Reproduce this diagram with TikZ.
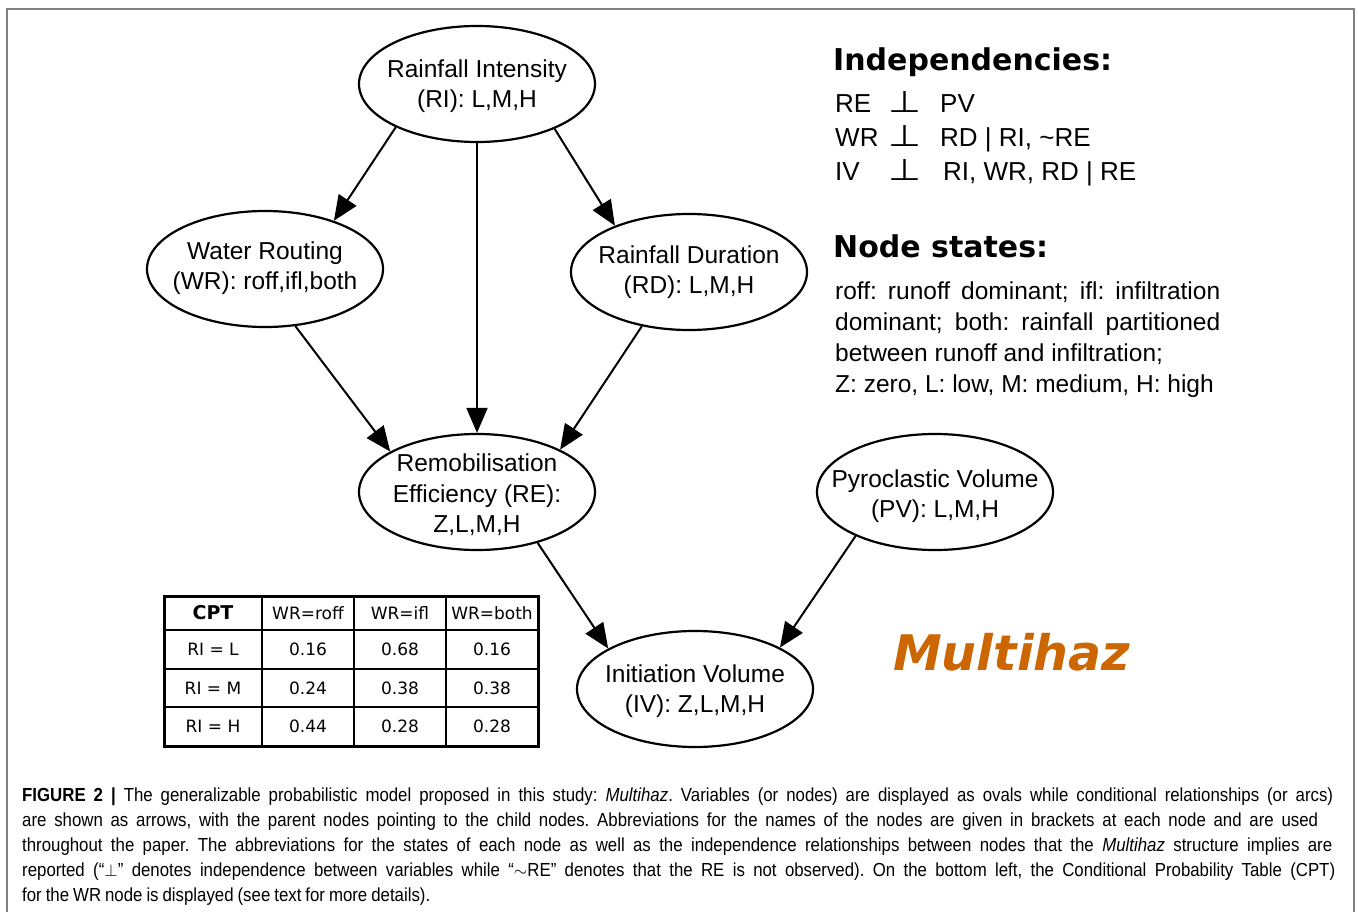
\documentclass[tikz,border=0pt]{standalone}
\usepackage{fontspec}
\usepackage{graphicx}
\setmainfont{Liberation Sans}
\newfontfamily\dejavu{DejaVu Sans}
\newfontfamily\capfont[FakeStretch=0.89]{Liberation Sans}
\usetikzlibrary{shapes.geometric,arrows.meta}
\definecolor{framegray}{RGB}{128,128,128}
\definecolor{mhorange}{RGB}{204,102,0}
\newcommand{\capsp}{\spaceskip=0.21em plus 0.6em minus 0.05em\relax}
\tikzset{
  ell/.style={ellipse, draw, line width=2.2pt, minimum width=236pt, minimum height=116pt, inner sep=0pt},
  ntext/.style={align=center, font=\fontsize{24.5}{30.5}\selectfont, inner sep=0pt},
  arr/.style={line width=2pt, -{Triangle[length=25pt,width=21pt]}},
  tcell/.style={font=\dejavu\fontsize{17}{20}\selectfont, inner sep=0pt, anchor=center},
  head/.style={font=\dejavu\bfseries\fontsize{30}{36}\selectfont, anchor=base west, inner sep=0pt},
  body/.style={font=\fontsize{24.5}{31}\selectfont, anchor=base west, inner sep=0pt},
  indep/.style={font=\fontsize{26}{34}\selectfont, anchor=base west, inner sep=0pt},
  perpsym/.style={anchor=south west, inner sep=0pt},
  captext/.style={font=\capfont\fontsize{18.9}{25}\selectfont\capsp, anchor=base west, inner sep=0pt},
}
\begin{document}
\frenchspacing
\begin{tikzpicture}[x=1pt,y=-1pt]
\useasboundingbox (0,0) rectangle (1358,912);
\fill[white] (0,0) rectangle (1358,912);
% frame
\draw[framegray, line width=2pt] (7,912) -- (7,9) -- (1354,9) -- (1354,912);

% graph nodes
\node[ell] (RI) at (477,84) {};
\node[ntext] (RIt) at (477,86) {Rainfall Intensity\\(RI): L,M,H};
\node[ell] (WR) at (265,269) {};
\node[ntext] (WRt) at (265,268) {Water Routing\\(WR): roff,ifl,both};
\node[ell] (RD) at (689,272) {};
\node[ntext] (RDt) at (689,272) {Rainfall Duration\\(RD): L,M,H};
\node[ell] (RE) at (477,492) {};
\node[ntext] (REt) at (477,495) {Remobilisation\\Efficiency (RE):\\Z,L,M,H};
\node[ell] (PV) at (935,492) {};
\node[ntext] (PVt) at (935,496) {Pyroclastic Volume\\(PV): L,M,H};
\node[ell] (IV) at (695,689) {};
\node[ntext] (IVt) at (695,691) {Initiation Volume\\(IV): Z,L,M,H};

% connectors
\draw[arr] (RI.208) -- (WR.35);
\draw[arr] (RI.270) -- (RE.90);
\draw[arr] (RI.330) -- (RD.148);
\draw[arr] (WR.298) -- (RE.155);
\draw[arr] (RD.229) -- (RE.27);
\draw[arr] (RE.320) -- (IV.155);
\draw[arr] (PV.209) -- (IV.26);

% independencies
\node[head] (indh) at (833,71) {Independencies:};
\node[indep] (i1a) at (835,113) {RE};
\node[perpsym] (i1p) at (888,113) {\resizebox{33pt}{21pt}{\dejavu ⊥}};
\node[indep] (i1b) at (940,113) {PV};
\node[indep] (i2a) at (835,147) {WR};
\node[perpsym] (i2p) at (888,147) {\resizebox{33pt}{21pt}{\dejavu ⊥}};
\node[indep] (i2b) at (940,147) {RD | RI, \textasciitilde RE};
\node[indep] (i3a) at (835,181) {IV};
\node[perpsym] (i3p) at (888,181) {\resizebox{33pt}{21pt}{\dejavu ⊥}};
\node[indep] (i3b) at (943,181) {RI, WR, RD | RE};

% node states
\node[head] (nsh) at (833,258) {Node states:};
\node[body] (ns1) at (835,299) {\makebox[385pt][s]{roff: runoff dominant; ifl: infiltration}};
\node[body] (ns2) at (835,330) {\makebox[385pt][s]{dominant; both: rainfall partitioned}};
\node[body] (ns3) at (835,361) {between runoff and infiltration;};
\node[body] (ns4) at (835,392) {Z: zero, L: low, M: medium, H: high};

% Multihaz
\node[anchor=base west, inner sep=0pt, text=mhorange, font=\dejavu\bfseries\itshape\fontsize{49}{55}\selectfont] (mh) at (893,670) {Multihaz};

% CPT table
\draw[line width=2pt] (262,596) -- (262,746) (354,596) -- (354,746) (446,596) -- (446,746);
\draw[line width=2pt] (164,630) -- (538,630) (164,669) -- (538,669) (164,707) -- (538,707);
\draw[line width=3pt] (164,596) rectangle (538,746);
\node[tcell, font=\dejavu\bfseries\fontsize{19}{22}\selectfont] (t00) at (213,613) {CPT};
\node[tcell] (t01) at (308,613) {WR=roff};
\node[tcell] (t02) at (400,613) {WR=ifl};
\node[tcell] (t03) at (492,613) {WR=both};
\node[tcell] (t10) at (213,649.5) {RI = L};
\node[tcell] (t11) at (308,649.5) {0.16};
\node[tcell] (t12) at (400,649.5) {0.68};
\node[tcell] (t13) at (492,649.5) {0.16};
\node[tcell] (t20) at (213,688) {RI = M};
\node[tcell] (t21) at (308,688) {0.24};
\node[tcell] (t22) at (400,688) {0.38};
\node[tcell] (t23) at (492,688) {0.38};
\node[tcell] (t30) at (213,726.5) {RI = H};
\node[tcell] (t31) at (308,726.5) {0.44};
\node[tcell] (t32) at (400,726.5) {0.28};
\node[tcell] (t33) at (492,726.5) {0.28};

% caption
\node[captext] (c1) at (22,801) {\makebox[1311pt][s]{\textbf{FIGURE 2 |} The generalizable probabilistic model proposed in this study: \textit{Multihaz}. Variables (or nodes) are displayed as ovals while conditional relationships (or arcs)}};
\node[captext] (c2) at (22,826) {\makebox[1296pt][s]{are shown as arrows, with the parent nodes pointing to the child nodes. Abbreviations for the names of the nodes are given in brackets at each node and are used}};
\node[captext] (c3) at (22,851) {\makebox[1310pt][s]{throughout the paper. The abbreviations for the states of each node as well as the independence relationships between nodes that the \textit{Multihaz} structure implies are}};
\node[captext] (c4) at (22,876) {\makebox[1313pt][s]{reported (“$\perp$” denotes independence between variables while “$\sim$RE” denotes that the RE is not observed). On the bottom left, the Conditional Probability Table (CPT)}};
\node[captext] (c5) at (22,901) {for the WR node is displayed (see text for more details).};
\end{tikzpicture}
\end{document}
